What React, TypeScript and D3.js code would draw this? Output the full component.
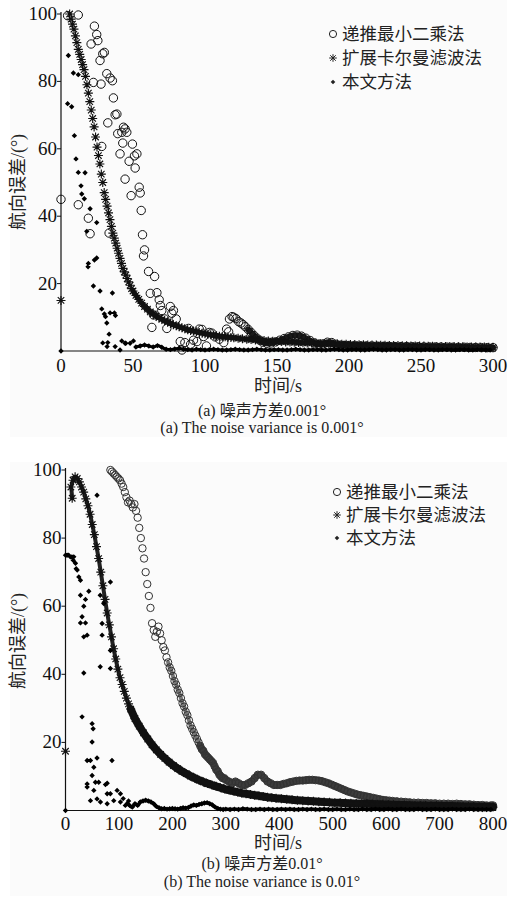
import React from 'react';
import * as d3 from 'd3';

type P = [number, number];

const legendLabels = ['递推最小二乘法', '扩展卡尔曼滤波法', '本文方法'];
const yTicks = [20, 40, 60, 80, 100];
const xTicksA = [0, 50, 100, 150, 200, 250, 300];
const xTicksB = [0, 100, 200, 300, 400, 500, 600, 700, 800];
const yLabel = '航向误差/(°)';
const xLabel = '时间/s';
const capA = ['(a) 噪声方差0.001°', '(a) The noise variance is 0.001°'];
const capB = ['(b) 噪声方差0.01°', '(b) The noise variance is 0.01°'];

// ---- chart (a): noise variance 0.001 ----
const rlsA: P[] = [[0,45],[4.6,99.5],[12,99.7],[12,43.4],[19,39.4],[20.2,34.8],[20.9,91.1],[22.5,79.7],[23.2,96.4],[24.8,93.9],[25.6,92.1],[27.1,86.2],[27.8,79.2],[28.3,60.7],[29,88.2],[30.1,88.6],[31.8,82.3],[32.5,67.7],[33.4,35],[34.1,81],[35.7,80.2],[36.4,75.1],[37.6,70.1],[38.8,70.3],[39.4,64.5],[41,58.5],[42.2,64.9],[42.9,61.7],[43.4,66.4],[44.5,65.9],[44.5,51],[45.7,64.9],[47.3,56.3],[48.7,46.1],[49.6,61.4],[51,57.9],[51.5,54.3],[52.7,58.5],[54.3,48.6],[55,46.9],[55.7,41.7],[56.6,34.5],[57.3,28.2],[58,30],[60.8,23.6],[62,17.1],[63.1,7],[64.2,10.7],[65,22.1],[66.6,17.3],[68.2,15.2],[69,13.5],[70,12],[72,9.5],[73.5,6.7],[75.9,13.2],[77,11.2],[78.1,12],[80,9.5],[82.8,2.8],[84,0.3],[86,2.5],[88.6,6.7],[90,2],[92,3.2],[94.4,2.8],[96,6.5],[97.9,6.4],[99,4.3],[101,1.5],[103,5.5],[104.8,5.3],[107,4.2],[110,3.5],[113,2.5],[115,6.5],[116.4,5.7],[117,9.5],[118.8,10.2],[120,10],[121.5,9.6],[123.4,8.7],[125,8.3],[126.5,7.8],[128,7.2],[130,6.4],[132,5.5],[134,4.6],[136,3.8],[138,3.2],[140,2.6],[143,2.3],[146,2.4],[149,2.7],[152,3.2],[155,3.7],[158,4.2],[161,4.6],[164,4.7],[167,4.4],[170,3.8],[173,3.1],[176,2.4],[179,2],[182,2.1],[185,2.6],[188,2.5],[191,2],[194,1.7],[197,1.6],[200,1.5],[204,1.5],[208,1.45],[212,1.4],[216,1.45],[220,1.4],[224,1.35],[228,1.35],[232,1.3],[236,1.3],[240,1.3],[244,1.25],[248,1.25],[252,1.2],[256,1.2],[260,1.2],[264,1.15],[268,1.15],[272,1.1],[276,1.1],[280,1.1],[284,1.05],[288,1.05],[292,1],[296,1],[300,1]];

const ekfA: P[] = [[0,15],[6,100],[7,98.5],[8,97],[9,95.5],[10,93.5],[11,91.5],[12,89.5],[13,88],[14,86.5],[15,85],[16,83.5],[17,81.5],[18,79],[19,76.5],[20,74],[21,71.5],[22,69],[23,66.5],[24,63.5],[25,60.5],[26,58],[27,55.5],[28,52.5],[29,50],[30,47],[31,45],[32,43],[33,41],[34,39],[35,37],[36,35],[37,33.5],[38,32],[39,30.5],[40,29],[41,27.5],[42,26],[43,24.5],[44,23.5],[45,22.5],[46,21.5],[47,20.5],[48,19.5],[49,18.5],[50,17.8],[52,16.5],[54,15.3],[56,14.2],[58,13.2],[60,12.4],[62,11.6],[64,11],[66,10.4],[68,9.9],[70,9.4],[72,9],[74,8.6],[76,8.2],[78,7.8],[80,7.5],[82,7.2],[84,6.9],[86,6.6],[88,6.3],[90,6.1],[92,5.9],[94,5.7],[96,5.5],[98,5.3],[100,5.1],[102,5],[104,4.8],[106,4.7],[108,4.5],[110,4.4],[112,4.3],[114,4.2],[116,4.1],[118,4],[120,3.9],[123,3.8],[126,3.6],[129,3.5],[132,3.4],[135,3.3],[138,3.2],[141,3.1],[144,3],[147,2.9],[150,2.85],[153,2.8],[156,2.7],[159,2.65],[162,2.6],[165,2.5],[168,2.45],[171,2.4],[174,2.35],[177,2.3],[180,2.25],[183,2.2],[186,2.15],[189,2.1],[192,2.05],[195,2],[198,2],[201,1.95],[204,1.9],[207,1.85],[210,1.85],[213,1.8],[216,1.75],[219,1.75],[222,1.7],[225,1.7],[228,1.65],[231,1.6],[234,1.6],[237,1.55],[240,1.55],[243,1.5],[246,1.5],[249,1.45],[252,1.45],[255,1.4],[258,1.4],[261,1.35],[264,1.35],[267,1.3],[270,1.3],[273,1.3],[276,1.25],[279,1.25],[282,1.2],[285,1.2],[288,1.2],[291,1.15],[294,1.15],[297,1.1],[300,1.1]];

const oursA: P[] = [[0,0],[4.6,73.4],[5.1,87.7],[7.4,72.5],[8.6,82.5],[9.3,63.9],[10.4,57],[12,82],[12,53],[13.9,49],[14.4,46.6],[16.2,45.2],[16.7,52.9],[17.9,35.5],[18.8,25],[19,26],[20.2,42.2],[22.5,19.3],[23.2,27],[24.8,27.6],[24.8,38.1],[27.1,17.8],[28.3,12.5],[29,2.4],[30.1,11],[30.9,10.2],[31.8,8.3],[32,1.3],[32.5,2.5],[33.4,5],[34.1,11.3],[35.7,17.2],[37.1,11.3],[37.6,1.3],[37.8,10.5],[41,0.3],[42.2,3],[44.5,2.3],[45,2.3],[48,2.3],[50.3,3],[52,1.2],[55,1.5],[58,1.8],[61,1.5],[64,1.2],[67,1.6],[70,1.1],[73,0.5],[76,0.4],[79,0.6],[82,0.8],[85,0.5],[88,0.4],[91,0.3],[94,0.5],[97,0.4],[100,0.3],[103,0.4],[106,0.5],[109,0.4],[112,0.3],[115,0.3],[118,0.4],[121,0.5],[124,0.4],[127,0.3],[130,0.3],[133,0.4],[136,0.5],[139,0.4],[142,0.3],[145,0.3],[148,0.4],[151,0.4],[154,0.3],[157,0.3],[160,0.4],[163,0.5],[166,0.4],[169,0.3],[172,0.3],[175,0.4],[178,0.4],[181,0.3],[184,0.3],[187,0.4],[190,0.5],[193,0.4],[196,0.3],[199,0.3],[202,0.4],[205,0.4],[208,0.3],[211,0.3],[214,0.4],[217,0.5],[220,0.4],[223,0.3],[226,0.3],[229,0.4],[232,0.4],[235,0.3],[238,0.3],[241,0.4],[244,0.4],[247,0.3],[250,0.3],[253,0.4],[256,0.4],[259,0.3],[262,0.3],[265,0.4],[268,0.4],[271,0.3],[274,0.3],[277,0.4],[280,0.4],[283,0.3],[286,0.3],[289,0.4],[292,0.4],[295,0.3],[298,0.3]];

// ---- chart (b): noise variance 0.01 ----
const rlsB: P[] = [[84,100],[87,99.5],[90,99],[93,98.5],[96,98],[99,97.5],[102,97],[105,96],[108,95],[111,93.5],[114,92],[117,90.5],[120,91],[123,90],[126,89],[129,90],[132,88],[135,86],[138,83],[141,80],[144,77],[147,74],[150,70],[153,66.5],[156,63],[159,59.5],[162,55],[165,53],[168,51],[171,52.5],[174,54],[177,52],[180,50],[183,48],[186,47],[189,45],[192,43.5],[195,42],[198,41],[201,39.5],[204,38],[207,37],[210,35.5],[213,34.5],[216,33],[219,31.5],[222,30.5],[225,29],[228,28],[231,26.5],[234,25],[237,24],[240,23],[243,22],[246,21],[249,20],[252,19],[255,18],[258,17.5],[261,16.5],[264,16],[267,15.5],[270,15],[273,14.5],[276,14],[279,13],[282,12],[285,11.5],[288,10.5],[291,10],[294,9.5],[297,9.5],[300,9],[306,8.5],[312,8],[318,8.5],[324,8],[330,7.5],[336,7.5],[342,8],[348,8.5],[354,9.5],[360,10.5],[366,10.5],[372,9.5],[378,8.5],[384,8],[390,7.5],[396,7.5],[402,7.5],[408,7.8],[414,8],[420,8.3],[426,8.5],[432,8.7],[438,8.8],[444,8.8],[450,8.9],[456,9],[462,9],[468,8.9],[474,8.8],[480,8.6],[486,8.3],[492,8],[498,7.6],[504,7.2],[510,6.8],[516,6.4],[522,6],[528,5.6],[534,5.3],[540,5],[546,4.7],[552,4.5],[558,4.3],[564,4.1],[570,3.9],[576,3.7],[582,3.5],[588,3.3],[594,3.1],[600,3],[606,2.9],[612,2.8],[620,2.7],[628,2.6],[636,2.5],[644,2.4],[652,2.3],[660,2.3],[668,2.2],[676,2.2],[684,2.1],[692,2.1],[700,2],[708,2],[716,2],[724,1.9],[732,2],[740,1.9],[748,1.8],[756,1.8],[764,1.7],[772,1.6],[780,1.6],[788,1.5],[796,1.5],[800,1.5]];

const ekfB: P[] = [[0,17.4],[12.5,91.7],[10,95],[14,97],[18,98],[22,97.5],[26,96.5],[30,95],[34,93.5],[38,91.5],[42,89.5],[46,87],[50,84],[54,81],[58,77.5],[62,74],[66,70],[70,66],[74,62],[78,58],[82,54.5],[86,51],[90,47.5],[94,44.5],[98,41.5],[102,39],[106,37],[110,35],[114,33],[118,31.3],[122,29.8],[130,27],[138,24.8],[146,22.8],[154,21],[162,19.3],[170,17.8],[178,16.5],[186,15.3],[194,14.2],[202,13.2],[210,12.3],[218,11.5],[226,10.8],[234,10.1],[242,9.5],[250,8.9],[258,8.4],[266,7.9],[274,7.5],[282,7.1],[290,6.7],[298,6.3],[306,6],[314,5.7],[322,5.4],[330,5.1],[338,4.9],[346,4.7],[354,4.5],[362,4.3],[370,4.1],[378,3.9],[386,3.75],[394,3.6],[404,3.45],[414,3.3],[424,3.15],[434,3],[444,2.9],[454,2.8],[464,2.7],[474,2.6],[484,2.5],[494,2.4],[504,2.3],[514,2.25],[524,2.2],[534,2.1],[544,2.05],[554,2],[564,1.95],[574,1.9],[584,1.85],[594,1.8],[604,1.75],[614,1.7],[624,1.65],[634,1.6],[644,1.55],[654,1.5],[664,1.5],[674,1.45],[684,1.4],[694,1.4],[704,1.35],[714,1.3],[724,1.3],[734,1.25],[744,1.2],[754,1.2],[764,1.15],[774,1.1],[784,1.1],[794,1.05],[800,1]];

const oursB: P[] = [[0,0],[0,75],[3,75],[6,75],[9,74.5],[12,74.5],[15.5,74.5],[14.4,73.5],[18.7,72.6],[20,71],[21.9,70.6],[24.9,68.6],[28,67.6],[28,63.2],[31,56.9],[28,55.1],[34.2,60],[37.4,62],[37.4,55.1],[40.5,51.5],[34.2,51],[43.6,64.4],[59,92.6],[84,67.1],[65,63.2],[71.6,60.8],[68.5,54.9],[68.5,51.5],[84,47],[84,41.7],[65,42.2],[34.2,40.4],[31,27.5],[49.8,25.5],[51.7,24],[49.8,20.1],[40.5,14.7],[46.7,14.7],[59,15.4],[87,14.7],[53,12.7],[49.8,10.3],[56,8.3],[62.2,8.3],[74.8,7.6],[78,8],[40.5,7.8],[40.5,6.9],[53,5.9],[78,4.9],[46.7,2.9],[59,3.4],[65.4,2.5],[84,4.9],[96.6,5.9],[102.8,4.9],[90.3,2.9],[78,2],[102.8,2.5],[115,2],[108,3.5],[112,1.5],[118,2.8],[120,1.5],[125,1],[130,2],[135,1.5],[140,2.5],[145,2.8],[150,3],[155,2.8],[160,2.5],[165,2],[170,1.2],[175,0.8],[180,0.5],[185,0.6],[190,0.4],[195,0.5],[200,0.6],[205,0.5],[210,0.4],[215,0.6],[220,0.8],[225,0.7],[230,0.9],[235,1.3],[240,1.6],[245,1.5],[250,1.8],[255,2],[260,2.2],[265,2.3],[270,2],[275,1.6],[280,1],[285,0.6],[290,0.4],[295,0.3],[300,0.4],[308,0.3],[316,0.4],[324,0.3],[332,0.5],[340,0.4],[348,0.3],[356,0.3],[364,0.4],[372,0.3],[380,0.4],[388,0.3],[396,0.3],[404,0.4],[412,0.3],[420,0.4],[428,0.3],[436,0.3],[444,0.4],[452,0.3],[460,0.4],[468,0.3],[476,0.3],[484,0.4],[492,0.3],[500,0.3],[508,0.4],[516,0.3],[524,0.3],[532,0.4],[540,0.3],[548,0.3],[556,0.4],[564,0.3],[572,0.3],[580,0.4],[588,0.3],[596,0.3],[604,0.4],[612,0.3],[620,0.3],[628,0.4],[636,0.3],[644,0.3],[652,0.3],[660,0.4],[668,0.3],[676,0.3],[684,0.3],[692,0.4],[700,0.3],[708,0.3],[716,0.3],[724,0.4],[732,0.3],[740,0.3],[748,0.3],[756,0.4],[764,0.3],[772,0.3],[780,0.3],[788,0.3],[796,0.3]];

const SERIF = "'Liberation Serif','Times New Roman','Noto Sans CJK SC',serif";
const CJK = "'Noto Sans CJK SC','Liberation Serif',sans-serif";

function starPath(cx: number, cy: number, s: number) {
  const k = s * 0.72;
  return `M${cx - s},${cy}H${cx + s}M${cx},${cy - s}V${cy + s}M${cx - k},${cy - k}L${cx + k},${cy + k}M${cx - k},${cy + k}L${cx + k},${cy - k}`;
}
function diamondPath(cx: number, cy: number, s: number) {
  return `M${cx},${cy - s}L${cx + s},${cy}L${cx},${cy + s}L${cx - s},${cy}Z`;
}

interface Band { from: number; to?: number; width: number; color: string }
interface PanelProps {
  xMax: number; xL: number; xR: number; yTop: number; yBot: number;
  xTicks: number[]; rls: P[]; ekf: P[]; ours: P[];
  circR: number; circColor: string; legX: number; legY: number[];
  yLabY: number; xLabY: number; tickDy: number; caps: string[]; capY: number[];
  rlsBands: Band[]; ekfBands: Band[]; oursBands: Band[];
}

function Panel(p: PanelProps) {
  const x = d3.scaleLinear().domain([0, p.xMax]).range([p.xL, p.xR]);
  const y = d3.scaleLinear().domain([0, 100]).range([p.yBot, p.yTop]);
  const line = d3.line<P>().x(d => x(d[0])).y(d => y(d[1])).curve(d3.curveMonotoneX);
  const bands = (data: P[], bs: Band[]) => bs.map((b, i) => (
    <path key={i} d={line(data.filter(d => d[0] >= b.from && d[0] <= (b.to ?? Infinity))) || ''} fill="none" stroke={b.color}
      strokeWidth={b.width} strokeLinecap="round" strokeLinejoin="round" />
  ));
  const ekfD = p.ekf.map(([t, v]) => starPath(x(t), y(v), 4.5)).join('');
  const oursD = p.ours.map(([t, v]) => diamondPath(x(t), y(v), 2.7)).join('');
  return (
    <g>
      <line x1={p.xL} x2={p.xL} y1={p.yTop - 2} y2={p.yBot} stroke="#111" strokeWidth={1.2} />
      <line x1={p.xL} x2={p.xR + 3} y1={p.yBot} y2={p.yBot} stroke="#111" strokeWidth={1.2} />
      {yTicks.map(t => (
        <g key={'y' + t}>
          <line x1={p.xL - 4} x2={p.xL} y1={y(t)} y2={y(t)} stroke="#111" strokeWidth={1} />
          <text x={p.xL - 4} y={y(t) + 6} textAnchor="end" fontFamily={SERIF} fontSize={19} fill="#111">{t}</text>
        </g>
      ))}
      {p.xTicks.map(t => (
        <text key={'x' + t} x={x(t)} y={p.yBot + p.tickDy} textAnchor="middle" fontFamily={SERIF} fontSize={19} fill="#111">{t}</text>
      ))}
      {bands(p.rls, p.rlsBands)}
      <g fill="none" stroke={p.circColor} strokeWidth={1}>
        {p.rls.map(([t, v], i) => <circle key={i} cx={x(t)} cy={y(v)} r={p.circR} />)}
      </g>
      {bands(p.ekf, p.ekfBands)}
      <path d={ekfD} fill="none" stroke="#111" strokeWidth={1.15} />
      {bands(p.ours, p.oursBands)}
      <path d={oursD} fill="#000" stroke="none" />
      <text transform={`translate(24,${p.yLabY}) rotate(-90)`} textAnchor="middle" fontFamily={SERIF} fontSize={18} fill="#222">{yLabel}</text>
      <text x={278} y={p.xLabY} textAnchor="middle" fontFamily={SERIF} fontSize={18} fill="#222">{xLabel}</text>
      {p.caps.map((c, i) => (
        <text key={c} x={262} y={p.capY[i]} textAnchor="middle" fontFamily={SERIF} fontSize={16} fill="#222">{c}</text>
      ))}
      {legendLabels.map((l, i) => (
        <g key={l}>
          {i === 0 && <circle cx={p.legX} cy={p.legY[i]} r={3.6} fill="none" stroke="#222" strokeWidth={1} />}
          {i === 1 && <path d={starPath(p.legX, p.legY[i], 3.8)} stroke="#222" strokeWidth={1} fill="none" />}
          {i === 2 && <path d={diamondPath(p.legX, p.legY[i], 2.3)} fill="#222" />}
          <text x={p.legX + 9} y={p.legY[i] + 6} fontFamily={CJK} fontSize={17.5} fill="#222">{l}</text>
        </g>
      ))}
    </g>
  );
}

export default function App() {
  return (
    <div style={{ position: 'absolute', left: 0, top: 0 }}>
      <svg width={520} height={898} viewBox="0 0 520 898" style={{ display: 'block', background: '#fff' }}>
        <rect x={10} y={0} width={497} height={437} fill="#fbfbfb" />
        <rect x={10} y={462} width={497} height={434} fill="#fbfbfb" />
        <Panel xMax={300} xL={61} xR={493} yTop={14} yBot={351} xTicks={xTicksA}
          rls={rlsA} ekf={ekfA} ours={oursA} circR={4.2} circColor="#111"
          legX={333} legY={[34, 58, 82]} yLabY={182} xLabY={392} tickDy={21}
          caps={capA} capY={[416, 433]}
          rlsBands={[{ from: 130, width: 6, color: '#1a1a1a' }]}
          ekfBands={[{ from: 50, width: 5, color: '#111' }]}
          oursBands={[{ from: 52, width: 3, color: '#000' }]} />
        <Panel xMax={800} xL={65.5} xR={493} yTop={470} yBot={810.5} xTicks={xTicksB}
          rls={rlsB} ekf={ekfB} ours={oursB} circR={3.7} circColor="#333"
          legX={337} legY={[492, 515, 538]} yLabY={641} xLabY={849} tickDy={19}
          caps={capB} capY={[869, 887]}
          rlsBands={[{ from: 190, to: 260, width: 4, color: '#777' }, { from: 250, width: 7, color: '#3c3c3c' }]}
          ekfBands={[{ from: 10, to: 130, width: 4, color: '#222' }, { from: 122, width: 8, color: '#111' }]}
          oursBands={[{ from: 120, width: 3.5, color: '#000' }]} />
      </svg>
    </div>
  );
}
